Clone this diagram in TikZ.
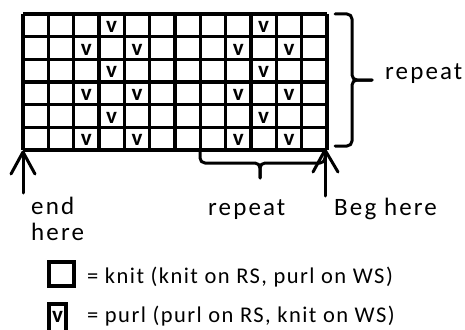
\documentclass[tikz,border=0pt]{standalone}
\usepackage{fontspec}
\setmainfont{Carlito}
\begin{document}
\begin{tikzpicture}[x=1pt,y=-1pt,
  thick line/.style={line width=3pt, line cap=round, line join=round},
  gridline/.style={line width=3.2pt},
  vmark/.style={inner sep=0pt, font=\fontsize{23}{23}\selectfont\bfseries},
  lbl/.style={inner sep=0pt, anchor=base west, font=\fontsize{25}{26}\selectfont\addfontfeature{LetterSpace=8.5}},
  leg/.style={inner sep=0pt, anchor=base west, font=\fontsize{22.5}{22.5}\selectfont\addfontfeature{LetterSpace=6.5}},
  legbox/.style={line width=3.5pt}]
\useasboundingbox (0,0) rectangle (465,329);
\fill[white] (0,0) rectangle (465,329);
% grid
\def\gx{25.33}
\def\gy{22.67}
\coordinate (gTL) at (23,14);
\coordinate (gBR) at (327,150);
\foreach \i in {0,...,12} \draw[gridline] ({23+\i*\gx},14) -- ({23+\i*\gx},150);
\foreach \j in {0,...,6} \draw[gridline] (23,{14+\j*\gy}) -- (327,{14+\j*\gy});
\foreach \c/\r in {4/1,10/1,3/2,5/2,9/2,11/2,4/3,10/3,3/4,5/4,9/4,11/4,4/5,10/5,3/6,5/6,9/6,11/6}
  \node[vmark] (v\c-\r) at ({23+(\c-0.5)*\gx},{14+(\r-0.5)*\gy+1.5}) {v};
% right brace
\coordinate (rb) at (372,80);
\draw[thick line, rounded corners=5pt] (335,14) -- (352,14) -- (352,80) -- (rb);
\draw[thick line, rounded corners=5pt] (335,146) -- (352,146) -- (352,80) -- (rb);
\node[lbl] (repR) at (385,79) {repeat};
% bottom brace
\coordinate (bb) at (260,178);
\draw[thick line, rounded corners=5pt] (200,150) -- (200,163) -- (260,163) -- (bb);
\draw[thick line, rounded corners=5pt] (325,150) -- (325,163) -- (260,163) -- (bb);
\node[lbl] (repB) at (208,215) {repeat};
% arrows
\coordinate (aL) at (23,152);
\coordinate (aLs) at (23,193);
\draw[thick line] (aLs) -- (aL);
\draw[thick line] (11,174) -- (aL) -- (35,174);
\coordinate (aR) at (325,150);
\coordinate (aRs) at (325,196);
\draw[thick line] (aRs) -- (aR);
\draw[thick line] (313,172) -- (aR) -- (338,172);
\node[lbl, align=left] (endl) at (31,240) {end\\here};
\node[lbl] (beg) at (334,215) {Beg here};
% legend
\draw[legbox] (49,262) rectangle (74,286);
\node[leg] (knit) at (87,283) {= knit (knit on RS, purl on WS)};
\draw[legbox] (49,304) rectangle (66,340);
\node[vmark] (vleg) at (57.5,317) {v};
\node[leg] (purl) at (87,322) {= purl (purl on RS, knit on WS)};
\end{tikzpicture}
\end{document}
